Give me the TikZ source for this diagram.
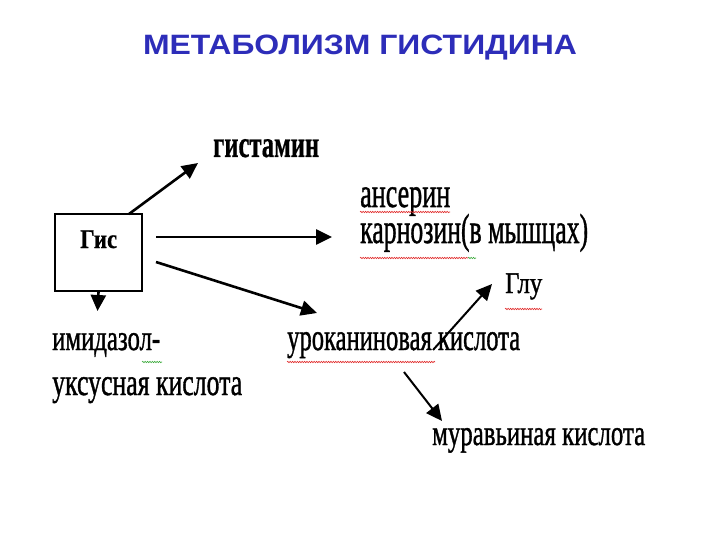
\documentclass[tikz,border=0pt]{standalone}
\usepackage{fontspec}
\setmainfont{Liberation Serif}
\newfontfamily\heavy[FakeBold=1.2]{Liberation Serif}
\newfontfamily\heavybold[FakeBold=0.8]{Liberation Serif Bold}
\newfontfamily\titlefont{Liberation Sans}
\usetikzlibrary{arrows.meta,decorations.pathmorphing}
\definecolor{titleblue}{RGB}{45,45,185}
\definecolor{spellred}{RGB}{225,40,40}
\definecolor{spellgreen}{RGB}{60,170,60}
\newsavebox\fitbox
\newcommand\fitw[3]{\sbox\fitbox{\fontsize{#2}{#2}\selectfont #3}\pgfmathsetmacro\fitsx{#1/\the\wd\fitbox}\scalebox{\fitsx}[1]{\usebox\fitbox}}
\begin{document}
\begin{tikzpicture}[x=1pt,y=-1pt,
  lbl/.style={anchor=base west, inner sep=0pt, text=black},
  arr/.style={line width=2.6pt, -{Triangle[length=16pt,width=15pt]}},
  wavyred/.style={spellred, line width=0.6pt, decorate, decoration={snake, amplitude=0.7pt, segment length=2.4pt}},
  wavygreen/.style={wavyred, spellgreen},
]
\useasboundingbox[fill=white] (0,0) rectangle (720,540);

\node[anchor=base, inner sep=0pt, text=titleblue] (title) at (360,55)
  {\fitw{434}{28}{\titlefont\bfseries МЕТАБОЛИЗМ ГИСТИДИНА}};

\node[draw, line width=2pt, minimum width=87pt, minimum height=77pt, inner sep=0pt, anchor=north west] (gis) at (54,213) {};
\node[lbl] (gist) at (80,248) {\fitw{37}{27}{\heavybold Гис}};

\node[lbl] (hist) at (213,157) {\fitw{106}{38}{\heavybold гистамин}};
\node[lbl] (ans) at (360,207) {\fitw{90}{42}{\heavy ансерин}};
\node[lbl] (carn) at (360,243) {\fitw{228}{42}{\heavy карнозин(в мышцах)}};
\node[lbl] (glu) at (505,293) {\fitw{37}{30}{\heavy Глу}};
\node[lbl] (uro) at (287,350) {\fitw{233}{38}{\heavy уроканиновая кислота}};
\node[lbl] (imid1) at (52,350) {\fitw{108}{36}{\heavy имидазол-}};
\node[lbl] (imid2) at (52,395) {\fitw{190}{38}{\heavy уксусная кислота}};
\node[lbl] (form) at (432,445) {\fitw{213}{36}{\heavy муравьиная кислота}};

% connectors
\coordinate (h0) at (129,214); \coordinate (h1) at (198,163);
\coordinate (c0) at (156,237); \coordinate (c1) at (332,237);
\coordinate (u0) at (156,262); \coordinate (u1) at (317,313);
\coordinate (d1) at (97.5,311);
\coordinate (g0) at (433,350); \coordinate (g1) at (492,284);
\coordinate (f0) at (404,372); \coordinate (f1) at (442,421);
\draw[arr] (h0) -- (h1);
\draw[arr] (c0) -- (c1);
\draw[arr] (u0) -- (u1);
\draw[arr] (gis.south) -- (d1);
\draw[arr, line width=2pt] (g0) -- (g1);
\draw[arr, line width=2pt] (f0) -- (f1);

% spell-check underlines
\draw[wavyred] (360,212) -- (450,212);
\draw[wavyred] (360,258) -- (468,258);
\draw[wavygreen] (468,258) -- (476,258);
\draw[wavyred] (505,309) -- (542,309);
\draw[wavyred] (287,362) -- (435,362);
\draw[wavygreen] (142,362) -- (162,362);
\end{tikzpicture}
\end{document}
